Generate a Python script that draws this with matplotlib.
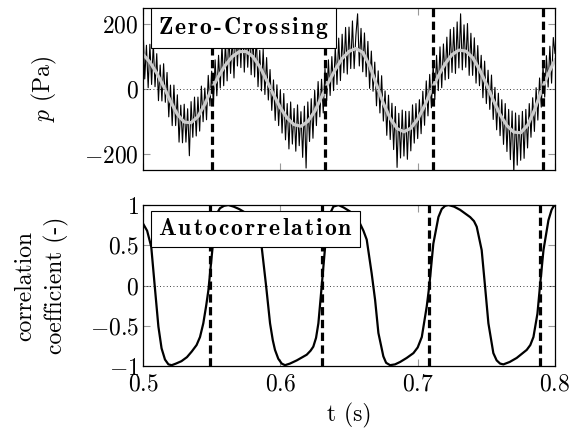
import numpy as np
import matplotlib
matplotlib.use("Agg")
import matplotlib.pyplot as plt

plt.rcParams["font.family"] = "cmr10"
plt.rcParams["mathtext.fontset"] = "cm"
plt.rcParams["axes.formatter.use_mathtext"] = True
plt.rcParams["axes.unicode_minus"] = True

# time axis (s), sampled every 1.25 ms
t_start, t_step, n_samples = 0.5, 0.00125, 241

# measured pressure signal (Pa)
p_raw = [
    195, 31, 135, 4, 138, 14, 141, 7,
    109, -36, 74, -37, 78, -41, 51, -86,
    12, -113, 12, -113, -18, -164, -50, -166,
    -47, -164, -61, -206, -39, -149, -25, -145,
    -25, -130, 9, -101, 3, -95, 42, -52,
    55, -50, 90, -21, 104, 3, 137, 10,
    144, 25, 172, 48, 160, 34, 198, 71,
    190, 66, 212, 52, 176, 67, 188, 44,
    165, 37, 165, 7, 119, -6, 123, -17,
    97, -34, 60, -66, 28, -97, 13, -113,
    -3, -136, -14, -157, -45, -185, -40, -170,
    -60, -192, -49, -175, -70, -211, -53, -244,
    -40, -162, -30, -152, -4, -113, 23, -86,
    30, -74, 63, -36, 90, -20, 100, -5,
    130, 14, 157, 26, 169, 50, 190, 46,
    191, 63, 210, 63, 165, 232, 71, 187,
    53, 173, 38, 147, 2, 117, -7, 83,
    -52, 56, -74, 41, -99, -6, -143, -19,
    -156, -44, -187, -54, -242, -75, -213, -65,
    -207, -69, -217, -69, -191, -49, -167, -45,
    -153, -33, -138, -7, -112, 25, -83, 45,
    -58, 77, -32, 104, -5, 130, 4, 139,
    28, 160, 32, 184, 51, 190, 48, 207,
    65, 232, 59, 198, 67, 202, 42, 172,
    42, 158, 18, 134, 10, 104, -27, 86,
    -45, 58, -63, 43, -94, 5, -126, -13,
    -144, -33, -171, -45, -193, -63, -218, -68,
    -258, -74, -235, -81, -220, -69, -214, -63,
    -182, -45, -149, -27, -131, 4, -96, 34,
    -56, 72, -25, 103, 6, 132, 18, 159,
    110,
]

# low-pass filtered pressure (Pa), every 5 ms
t_fit = [0.500, 0.505, 0.510, 0.515, 0.520, 0.525, 0.530, 0.535, 0.540, 0.545,
         0.550, 0.555, 0.560, 0.565, 0.570, 0.575, 0.580, 0.585, 0.590, 0.595,
         0.600, 0.605, 0.610, 0.615, 0.620, 0.625, 0.630, 0.635, 0.640, 0.645,
         0.650, 0.655, 0.660, 0.665, 0.670, 0.675, 0.680, 0.685, 0.690, 0.695,
         0.700, 0.705, 0.710, 0.715, 0.720, 0.725, 0.730, 0.735, 0.740, 0.745,
         0.750, 0.755, 0.760, 0.765, 0.770, 0.775, 0.780, 0.785, 0.790, 0.795,
         0.800]
p_fit = [107, 83, 49, 8, -38, -78, -102, -104, -85, -47,
         0, 39, 74, 100, 115, 116, 100, 69, 27, -17,
         -58, -90, -110, -115, -100, -69, -25, 20, 60, 94,
         116, 125, 113, 72, 13, -44, -91, -122, -132, -121,
         -93, -52, -3, 40, 78, 106, 120, 117, 97, 60,
         15, -34, -79, -113, -133, -135, -112, -66, -6, 46,
         90]

# autocorrelation of the pressure signal
t_corr = [0.500, 0.503, 0.506, 0.5085, 0.5112, 0.5135, 0.516, 0.5185, 0.5209, 0.524,
          0.528, 0.532, 0.5355, 0.539, 0.5415, 0.5439, 0.546, 0.5476, 0.550, 0.5524,
          0.554, 0.556, 0.559, 0.5621, 0.566, 0.570, 0.573, 0.577, 0.581, 0.583,
          0.5848, 0.5864, 0.5896, 0.5925, 0.5945, 0.5961, 0.5985, 0.601, 0.6034, 0.607,
          0.612, 0.6192, 0.622, 0.624, 0.626, 0.6277, 0.6301, 0.6326, 0.635, 0.6386,
          0.6423, 0.646, 0.6507, 0.655, 0.658, 0.6605, 0.6629, 0.6665, 0.669, 0.6714,
          0.675, 0.677, 0.6799, 0.6835, 0.6872, 0.692, 0.6969, 0.700, 0.703, 0.7066,
          0.7085, 0.7114, 0.7151, 0.7175, 0.720, 0.7224, 0.7265, 0.7309, 0.7382, 0.741,
          0.743, 0.7466, 0.749, 0.7515, 0.7551, 0.7575, 0.760, 0.7624, 0.767, 0.7721,
          0.7794, 0.782, 0.7843, 0.7872, 0.7891, 0.7916, 0.7952, 0.7975, 0.7988, 0.800]
corr = [0.77, 0.68, 0.48, 0.0, -0.51, -0.78, -0.92, -0.98, -0.99, -0.97,
        -0.94, -0.89, -0.82, -0.74, -0.64, -0.47, -0.25, -0.06, 0.36, 0.77,
        0.90, 0.96, 0.99, 1.0, 0.98, 0.95, 0.92, 0.88, 0.84, 0.79,
        0.68, 0.48, 0.0, -0.47, -0.68, -0.80, -0.91, -0.97, -0.99, -0.97,
        -0.93, -0.86, -0.81, -0.76, -0.65, -0.47, -0.01, 0.48, 0.85, 0.98,
        1.0, 0.97, 0.92, 0.85, 0.77, 0.68, 0.57, 0.15, -0.18, -0.59,
        -0.88, -0.96, -0.99, -0.98, -0.95, -0.90, -0.84, -0.77, -0.64, -0.26,
        0.0, 0.52, 0.85, 0.95, 0.99, 1.0, 0.98, 0.94, 0.85, 0.80,
        0.73, 0.44, 0.0, -0.47, -0.84, -0.93, -0.97, -0.98, -0.95, -0.90,
        -0.80, -0.74, -0.64, -0.35, 0.0, 0.44, 0.81, 0.94, 0.98, 1.0]

# detected crossings (s)
zc_pressure = [0.5500, 0.6326, 0.7114, 0.7916]
zc_corr = [0.5488, 0.6306, 0.7085, 0.7890]

t_raw = t_start + t_step * np.arange(n_samples)


def spaced_bold(word, gap=0.1):
    # letter-spaced bold label built from mathtext kerns
    sep = r"\hspace{%g}" % gap
    parts = word.split("-")
    chunks = [r"$\mathbf{" + sep.join(p) + "}$" for p in parts]
    return (r"$" + sep + "$-$" + sep + "$").join(chunks)


fig = plt.figure(figsize=(5.70, 4.34), dpi=100)
ax1 = fig.add_axes([0.2509, 0.6083, 0.7228, 0.3733])
ax2 = fig.add_axes([0.2509, 0.1567, 0.7228, 0.3709])

dash = (0, (2.6, 1.4))

ax1.plot(t_raw, p_raw, color="black", lw=0.8)
ax1.plot(t_fit, p_fit, color="0.8", lw=2.3)
ax1.axhline(0, color="black", lw=0.6, ls=(0, (1, 3)))
for x in zc_pressure:
    ax1.axvline(x, color="black", lw=2.3, ls=dash)

ax2.plot(t_corr, corr, color="black", lw=1.6)
ax2.axhline(0, color="black", lw=0.6, ls=(0, (1, 3)))
for x in zc_corr:
    ax2.axvline(x, color="black", lw=2.3, ls=dash)

for ax in (ax1, ax2):
    ax.set_xlim(0.5, 0.8)
    ax.set_xticks([0.5, 0.6, 0.7, 0.8])
    ax.tick_params(direction="in", length=5, width=0.8, color="0.6",
                   top=True, right=True, labelsize=17, pad=3)
    for s in ax.spines.values():
        s.set_linewidth(0.9)

ax1.set_ylim(-250, 250)
ax1.set_yticks([-200, 0, 200])
ax1.set_yticklabels([r"$-200$", r"$0$", r"$200$"])
ax1.set_xticklabels([])
ax1.set_ylabel(r"$p$ (Pa)", fontsize=17)

ax2.set_ylim(-1, 1)
ax2.set_yticks([-1, -0.5, 0, 0.5, 1])
ax2.set_yticklabels([r"$-1$", r"$-0.5$", r"$0$", r"$0.5$", r"$1$"])
ax2.set_xticklabels([r"$0.5$", r"$0.6$", r"$0.7$", r"$0.8$"])
ax2.tick_params(axis="x", pad=5)
ax2.set_ylabel("correlation\ncoefficient (-)", fontsize=17, linespacing=1.4)
ax2.set_xlabel("t (s)", fontsize=17, labelpad=6)

box = dict(boxstyle="square,pad=0.3", facecolor="white", edgecolor="black", lw=0.8)
ax1.text(0.036, 0.955, spaced_bold("Zero-Crossing"), transform=ax1.transAxes,
         ha="left", va="top", family="cmb10", fontsize=17, bbox=box, zorder=5)
ax2.text(0.036, 0.92, spaced_bold("Autocorrelation"), transform=ax2.transAxes,
         ha="left", va="top", family="cmb10", fontsize=17, bbox=box, zorder=5)

ax1.yaxis.set_label_coords(-0.205, 0.5)
ax2.yaxis.set_label_coords(-0.18, 0.5)

fig.savefig("out.png", dpi=100)
